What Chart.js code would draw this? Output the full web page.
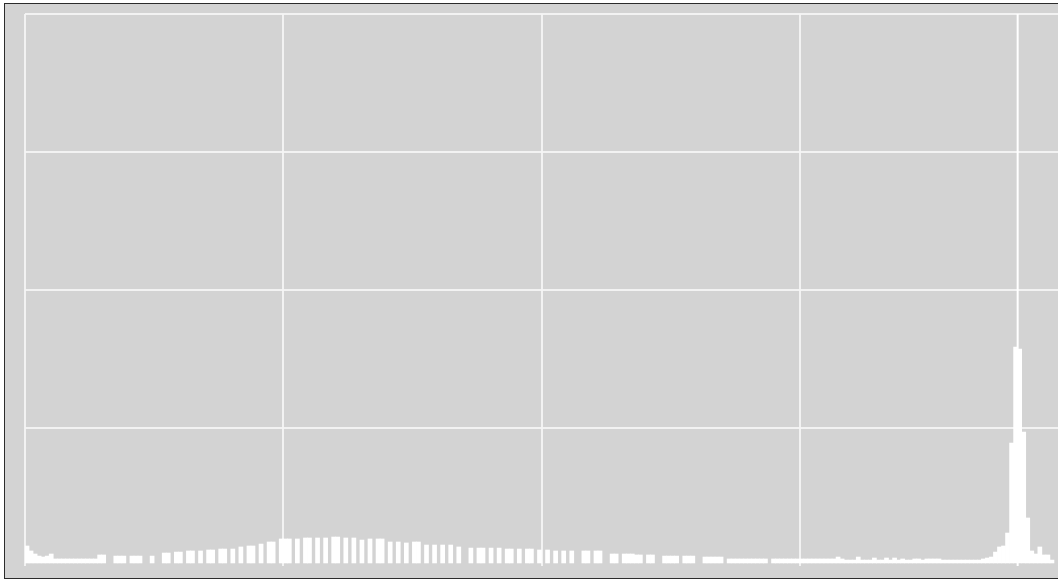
<!DOCTYPE html>
<html>
<head>
<meta charset="utf-8">
<script src="https://cdn.jsdelivr.net/npm/chart.js@4/dist/chart.umd.min.js"></script>
<style>
    html, body { margin: 0; padding: 0; background: #ffffff; overflow: hidden; }
    #frame {
        position: absolute;
        left: 4px;
        top: 3px;
        width: 1064px;
        height: 574px;
        background: #d3d3d3;
        border-left: 1px solid #2b2b2b;
        border-top: 1px solid #2b2b2b;
        border-bottom: 1px solid #2b2b2b;
    }
</style>
</head>
<body>
<div id="frame">
    <canvas id="histogram" width="1064" height="574"></canvas>
</div>
<script>
// histogram, 256 bins (null = empty bin)
var bins = Array.from({length: 256}, function(_, i) { return i; });
var counts = [
    14.5, 10.9, 8.7, 7.2, 6.5, 7.2, 8.7, 5.1, 5.1, 5.1, 5.1, 5.1, 5.1, 5.1, 5.1, 5.1,
    5.1, 5.1, 8.0, 8.0, null, null, 7.2, 7.2, 7.2, null, 7.2, 7.2, 7.2, null, null, 7.2,
    null, null, 9.4, 9.4, null, 10.1, 10.1, null, 10.9, 10.9, null, 10.9, null, 11.6, 11.6, null,
    12.3, 12.3, null, 12.3, null, 13.8, null, 14.5, 14.5, null, 15.9, null, 17.4, 17.4, null, 19.6,
    19.6, 19.6, null, 19.6, null, 20.3, 20.3, null, 20.3, null, 20.3, null, 21.0, 21.0, null, 20.3,
    null, 20.3, null, 18.8, null, 19.6, null, 19.6, 19.6, null, 17.4, null, 17.4, null, 16.7, null,
    17.4, 17.4, null, 15.2, null, 15.2, null, 15.2, null, 15.2, null, 13.8, null, null, 13.0, null,
    13.0, 13.0, null, 13.0, null, 13.0, null, 12.3, 12.3, null, 12.3, null, 12.3, 12.3, null, 11.6,
    null, 11.6, null, 10.9, null, 10.9, null, 10.9, null, null, 10.9, 10.9, null, 10.9, 10.9, null,
    null, 8.7, 8.7, null, 8.7, 8.7, 8.7, 8.0, 8.0, null, 8.0, 8.0, null, null, 7.2, 7.2,
    7.2, 7.2, null, 7.2, 7.2, 7.2, null, null, 6.5, 6.5, 6.5, 6.5, 6.5, null, 5.1, 5.1,
    5.1, 5.1, 5.1, 5.1, 5.1, 5.1, 5.1, 5.1, null, 5.1, 5.1, 5.1, 5.1, 5.1, 5.1, 5.1,
    5.1, 5.1, 5.1, 5.1, 5.1, 5.1, 5.1, 5.1, 5.1, 6.5, 5.1, 4.3, 4.3, 4.3, 6.5, 4.3,
    4.3, 4.3, 5.8, 4.3, 4.3, 5.8, 4.3, 5.8, 4.3, 5.1, 4.3, 4.3, 5.1, 5.1, 4.3, 5.1,
    5.1, 5.1, 5.1, 4.3, 4.3, 4.3, 4.3, 4.3, 4.3, 4.3, 4.3, 4.3, 4.3, 5.1, 5.8, 6.5,
    10.1, 13.8, 14.5, 23.9, 89.1, 158.7, 157.2, 97.1, 34.8, 10.9, 8.7, 13.8, 8.0, 8.0, 4.3, null
];
var xTicks = [0, 64, 128, 192, 256];
var yTicks = [0, 100, 200, 300, 400];
var peakBin = 246;

var barData = bins.map(function(b, i) { return {x: b + 0.5, y: counts[i]}; });
var peakLine = [{x: peakBin, y: yTicks[0]}, {x: peakBin, y: yTicks[yTicks.length - 1]}];

var gridColor = "rgba(245,245,245,0.9)";

new Chart(document.getElementById("histogram"), {
    "type": "bar",
    "data": {
        "datasets": [{
            "data": barData,
            "backgroundColor": "#ffffff",
            "borderWidth": 0,
            "base": 2.2,
            "barPercentage": 1,
            "categoryPercentage": 1,
            "order": 1
        }, {
            "type": "line",
            "data": peakLine,
            "borderColor": "#ffffff",
            "borderWidth": 2,
            "pointRadius": 0,
            "order": 2
        }]
    },
    "options": {
        "responsive": false,
        "animation": false,
        "devicePixelRatio": 1,
        "layout": {"padding": {"left": 20, "top": 10, "right": 11, "bottom": 12}},
        "plugins": {"legend": {"display": false}, "tooltip": {"enabled": false}},
        "scales": {
            "x": {
                "type": "linear",
                "min": xTicks[0],
                "max": xTicks[xTicks.length - 1],
                "offset": false,
                "afterBuildTicks": function(scale) { scale.ticks = xTicks.map(function(v) { return {value: v}; }); },
                "ticks": {"display": false},
                "border": {"display": false},
                "grid": {
                    "offset": false,
                    "drawTicks": false,
                    "lineWidth": 2,
                    "color": function(ctx) { return ctx.tick && ctx.tick.value === 256 ? "rgba(0,0,0,0)" : gridColor; }
                }
            },
            "y": {
                "min": yTicks[0],
                "max": yTicks[yTicks.length - 1],
                "afterBuildTicks": function(scale) { scale.ticks = yTicks.map(function(v) { return {value: v}; }); },
                "ticks": {"display": false},
                "border": {"display": false},
                "grid": {
                    "drawTicks": false,
                    "lineWidth": 2,
                    "color": function(ctx) { return ctx.tick && ctx.tick.value === 0 ? "rgba(0,0,0,0)" : gridColor; }
                }
            }
        }
    }
});
</script>
</body>
</html>
